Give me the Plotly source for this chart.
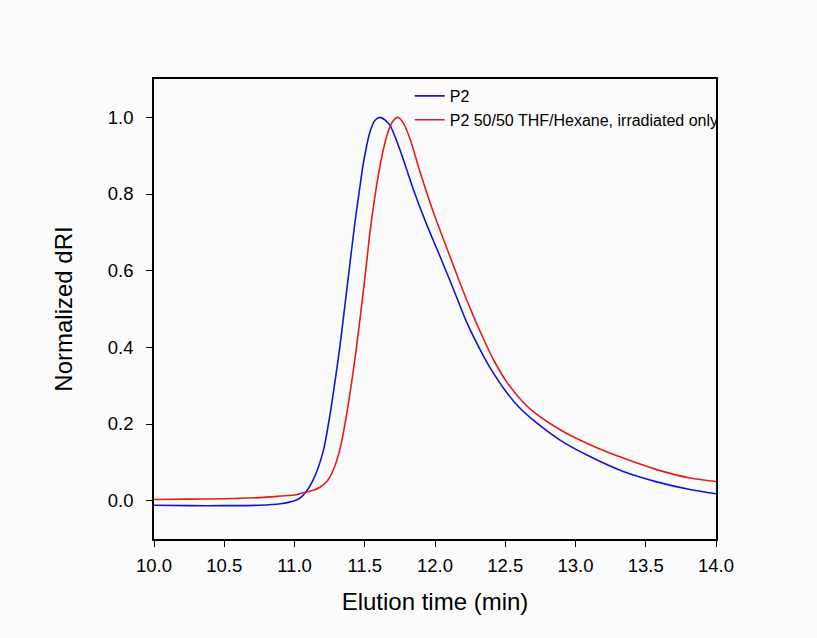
import plotly.graph_objects as go

# P2 (blue)
t_p2 = [10.0, 10.25, 10.5, 10.75, 10.9, 11.0, 11.039, 11.08, 11.134, 11.205, 11.253, 11.288,
        11.324, 11.359, 11.395, 11.43, 11.466, 11.49, 11.537, 11.575, 11.609, 11.645, 11.68,
        11.751, 11.846, 11.941, 12.036, 12.13, 12.226, 12.344, 12.42, 12.51, 12.60, 12.70,
        12.89, 13.103, 13.34, 13.578, 13.815, 14.0]
v_p2 = [-0.012, -0.013, -0.013, -0.012, -0.008, 0.0, 0.007, 0.022, 0.055, 0.13, 0.225, 0.31,
        0.405, 0.51, 0.62, 0.725, 0.82, 0.88, 0.962, 0.993, 1.0, 0.993, 0.979,
        0.915, 0.812, 0.72, 0.637, 0.553, 0.465, 0.378, 0.33, 0.282, 0.243, 0.21,
        0.158, 0.115, 0.076, 0.049, 0.029, 0.018]

# P2 50/50 THF/Hexane, irradiated only (red)
t_irr = [10.0, 10.25, 10.5, 10.75, 10.9, 11.0, 11.039, 11.08, 11.134, 11.181, 11.23, 11.276,
         11.324, 11.371, 11.407, 11.443, 11.478, 11.51, 11.537, 11.567, 11.597, 11.626, 11.656,
         11.695, 11.734, 11.775, 11.822, 11.893, 11.988, 12.083, 12.178, 12.249, 12.344, 12.42,
         12.51, 12.60, 12.70, 12.89, 13.103, 13.34, 13.578, 13.815, 14.0]
v_irr = [0.003, 0.004, 0.005, 0.008, 0.012, 0.015, 0.018, 0.022, 0.027, 0.035, 0.05, 0.08,
         0.135, 0.225, 0.31, 0.405, 0.51, 0.61, 0.70, 0.78, 0.85, 0.905, 0.95,
         0.987, 1.0, 0.985, 0.944, 0.858, 0.753, 0.66, 0.568, 0.503, 0.423, 0.365,
         0.31, 0.268, 0.232, 0.185, 0.146, 0.111, 0.081, 0.059, 0.05]

x_ticks = [10.0, 10.5, 11.0, 11.5, 12.0, 12.5, 13.0, 13.5, 14.0]
y_ticks = [0.0, 0.2, 0.4, 0.6, 0.8, 1.0]

FONT = "Liberation Sans, Arial"

fig = go.Figure()
fig.add_trace(go.Scatter(x=t_p2, y=v_p2, mode="lines", name="P2",
                         line=dict(color="#1414d8", width=1.6, shape="spline", smoothing=0.8)))
fig.add_trace(go.Scatter(x=t_irr, y=v_irr, mode="lines", name="P2 50/50 THF/Hexane, irradiated only",
                         line=dict(color="#e41c1c", width=1.6, shape="spline", smoothing=0.8)))

axis_common = dict(showline=True, linecolor="black", linewidth=1.6, mirror=True,
                   ticks="outside", ticklen=6, tickwidth=1.4, tickcolor="black",
                   showgrid=False, zeroline=False,
                   tickfont=dict(family=FONT, size=18.5, color="black"))

fig.update_xaxes(range=[10, 14], tickvals=x_ticks, tickformat=".1f", ticklabelstandoff=3,
                 title=dict(text="Elution time (min)", font=dict(family=FONT, size=24, color="black"), standoff=18),
                 **axis_common)
fig.update_yaxes(range=[-0.1, 1.1], tickvals=y_ticks, tickformat=".1f", ticklabelstandoff=9,
                 title=dict(text="Normalized dRI", font=dict(family=FONT, size=24, color="black"), standoff=28),
                 **axis_common)

fig.update_layout(
    width=817, height=638,
    margin=dict(l=154, r=101, t=79, b=99),
    paper_bgcolor="#fbfbfb", plot_bgcolor="#fbfbfb",
    showlegend=True,
    legend=dict(x=0.455, y=1.0, xanchor="left", yanchor="top", bgcolor="rgba(0,0,0,0)",
                font=dict(family=FONT, size=16, color="black"),
                tracegroupgap=0, itemwidth=30),
)

fig.write_html("out.html")
